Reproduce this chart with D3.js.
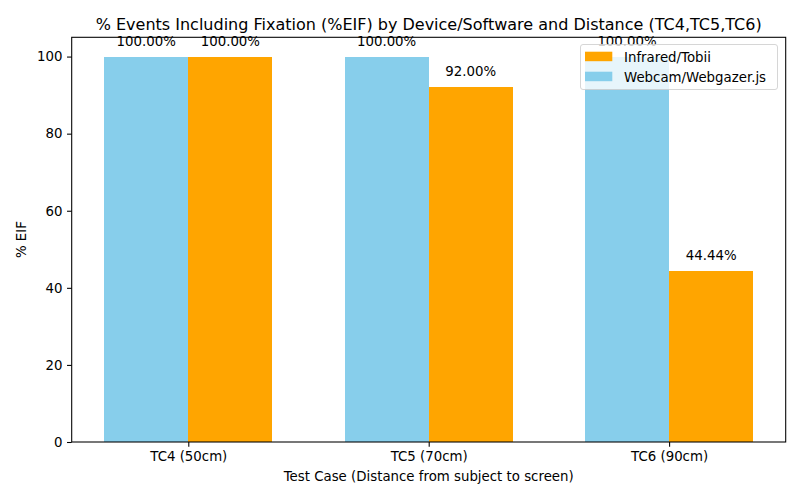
<!DOCTYPE html>
<html><head><meta charset="utf-8">
<script src="https://cdn.jsdelivr.net/npm/d3@7"></script>
<style>body{margin:0;background:#fff}svg{display:block;font-family:"DejaVu Sans",sans-serif}</style>
</head><body>
<script>
const categories = ["TC4 (50cm)", "TC5 (70cm)", "TC6 (90cm)"];
const webcamValues = [100, 100, 100];
const infraredValues = [100, 92, 44.44];
const yTickValues = [0, 20, 40, 60, 80, 100];
const seriesNames = ["Webcam/Webgazer.js", "Infrared/Tobii"];
const legendOrder = ["Infrared/Tobii", "Webcam/Webgazer.js"];
const titleText = "% Events Including Fixation (%EIF) by Device/Software and Distance (TC4,TC5,TC6)";
const xLabelText = "Test Case (Distance from subject to screen)";
const yLabelText = "% EIF";

const W = 800, H = 500;
const L = 71.7, R = 785.7, T = 37.3, B = 442;
const barW = 0.35;
const colors = {"Webcam/Webgazer.js": "#87CEEB", "Infrared/Tobii": "#FFA500"};

const svg = d3.select("body").append("svg").attr("width", W).attr("height", H);
const x = d3.scaleLinear().domain([-0.485, 2.485]).range([L, R]);
const y = d3.scaleLinear().domain([0, 105]).range([B, T]);

const series = [
  {name: seriesNames[0], values: webcamValues, off: -barW / 2},
  {name: seriesNames[1], values: infraredValues, off: barW / 2}
];

series.forEach(s => {
  svg.append("g").attr("shape-rendering", "crispEdges").selectAll("rect").data(s.values).join("rect")
    .attr("x", (d, i) => x(i + s.off - barW / 2))
    .attr("width", x(barW) - x(0))
    .attr("y", d => y(d))
    .attr("height", d => y(0) - y(d))
    .attr("fill", colors[s.name]);
});
series.forEach(s => {
  svg.append("g").selectAll("text").data(s.values).join("text")
    .attr("x", (d, i) => x(i + s.off))
    .attr("y", d => y(d) - 11)
    .attr("text-anchor", "middle")
    .attr("font-size", 13.33)
    .attr("fill", "#000")
    .text(d => d.toFixed(2) + "%");
});

// axes
const xAxis = d3.axisBottom(x).tickValues([0, 1, 2]).tickFormat(i => categories[i]).tickSize(4.67).tickPadding(4.67);
const gx = svg.append("g").attr("transform", `translate(0,${B})`).call(xAxis);
const yAxis = d3.axisLeft(y).tickValues(yTickValues).tickSize(4.67).tickPadding(4.67);
const gy = svg.append("g").attr("transform", `translate(${L},0)`).call(yAxis);
[gx, gy].forEach(g => {
  g.select(".domain").remove();
  g.selectAll("text").attr("font-size", 13.33).attr("font-family", "DejaVu Sans").attr("fill", "#000");
  g.selectAll("line").attr("stroke", "#000").attr("stroke-width", 1.07);
});
gx.selectAll("text").attr("dy", "0.71em");

// spines
svg.append("rect").attr("x", L).attr("y", T).attr("width", R - L).attr("height", B - T)
  .attr("fill", "none").attr("stroke", "#000").attr("stroke-width", 1.07);

// titles
svg.append("text").attr("x", (L + R) / 2).attr("y", 30).attr("text-anchor", "middle")
  .attr("font-size", 16).text(titleText);
svg.append("text").attr("x", (L + R) / 2).attr("y", 481).attr("text-anchor", "middle")
  .attr("font-size", 13.33).text(xLabelText);
svg.append("text").attr("transform", `translate(25.5,${(T + B) / 2}) rotate(-90)`).attr("text-anchor", "middle")
  .attr("font-size", 13.33).text(yLabelText);

// legend
const lg = svg.append("g");
lg.append("rect").attr("x", 580.5).attr("y", 44.5).attr("width", 197).attr("height", 45).attr("rx", 2.5)
  .attr("fill", "#fff").attr("fill-opacity", 0.8).attr("stroke", "#cccccc").attr("stroke-opacity", 0.8).attr("stroke-width", 1);
legendOrder.forEach((n, i) => {
  const yy = 51.7 + i * 20;
  lg.append("rect").attr("x", 585).attr("y", yy).attr("width", 27.3).attr("height", 9.5).attr("fill", colors[n]);
  lg.append("text").attr("x", 624).attr("y", yy + 9.8).attr("font-size", 13.33).text(n);
});
</script>
</body></html>
